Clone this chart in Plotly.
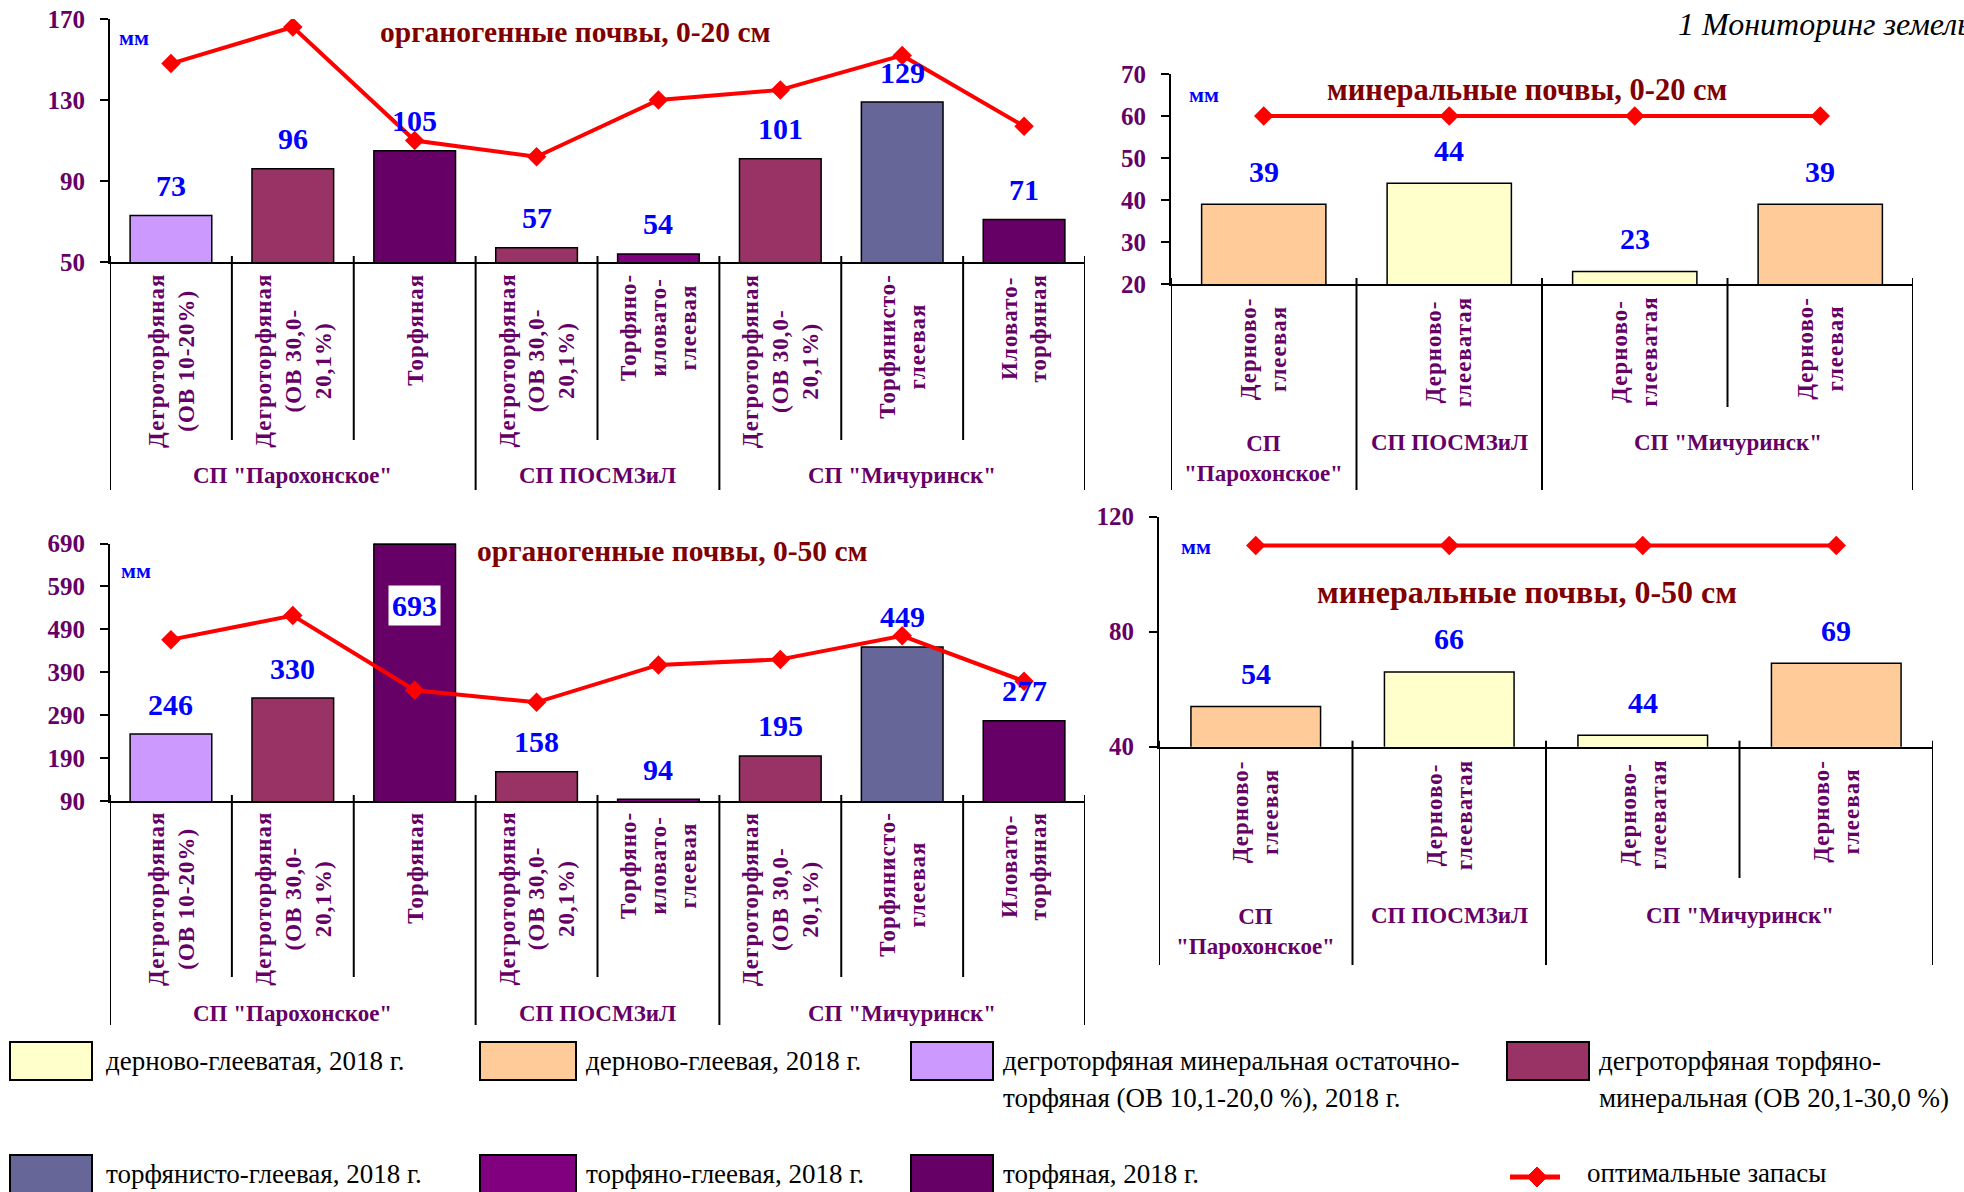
import plotly.graph_objects as go

W, H = 1964, 1192
SERIF = "Liberation Serif"

# ---------------- data ----------------
org_soils = ["Дегроторфяная<br>(ОВ 10-20%)",
             "Дегроторфяная<br>(ОВ 30,0-<br>20,1%)",
             "Торфяная",
             "Дегроторфяная<br>(ОВ 30,0-<br>20,1%)",
             "Торфяно-<br>иловато-<br>глеевая",
             "Дегроторфяная<br>(ОВ 30,0-<br>20,1%)",
             "Торфянисто-<br>глеевая",
             "Иловато-<br>торфяная"]
org_types = ["degro_min", "degro_torf", "torf", "degro_torf",
             "torf_gley", "degro_torf", "torfyan_gley", "torf"]
org_groups = ['СП "Парохонское"', "СП ПОСМЗиЛ", 'СП "Мичуринск"']
org_group_sizes = [3, 2, 3]
org_020_actual = [73, 96, 105, 57, 54, 101, 129, 71]
org_020_optimal = [148, 166, 110, 102, 130, 135, 152, 117]
org_050_actual = [246, 330, 693, 158, 94, 195, 449, 277]
org_050_optimal = [466, 522, 348, 320, 407, 420, 475, 369]

min_soils = ["Дерново-<br>глеевая", "Дерново-<br>глееватая",
             "Дерново-<br>глееватая", "Дерново-<br>глеевая"]
min_types = ["dern_gley", "dern_gleevat", "dern_gleevat", "dern_gley"]
min_groups = ['СП<br>"Парохонское"', "СП ПОСМЗиЛ", 'СП "Мичуринск"']
min_group_sizes = [1, 1, 2]
min_020_actual = [39, 44, 23, 39]
min_020_optimal = [60, 60, 60, 60]
min_050_actual = [54, 66, 44, 69]
min_050_optimal = [110, 110, 110, 110]

legend_keys = ["dern_gleevat", "dern_gley", "degro_min", "degro_torf",
               "torfyan_gley", "torf_gley", "torf"]
legend_labels = [["дерново-глееватая, 2018 г."],
                 ["дерново-глеевая, 2018 г."],
                 ["дегроторфяная минеральная остаточно-",
                  "торфяная (ОВ 10,1-20,0 %), 2018 г."],
                 ["дегроторфяная торфяно-",
                  "минеральная (ОВ 20,1-30,0 %)"],
                 ["торфянисто-глеевая, 2018 г."],
                 ["торфяно-глеевая, 2018 г."],
                 ["торфяная, 2018 г."]]
optimal_label = "оптимальные запасы"

soil_colors = {
    "dern_gleevat": "#FFFFCC",
    "dern_gley": "#FFCC99",
    "degro_min": "#CC99FF",
    "degro_torf": "#993366",
    "torfyan_gley": "#666699",
    "torf_gley": "#800080",
    "torf": "#660066",
}

AXIS_PURPLE = "#660066"
TITLE_RED = "#800000"
LABEL_BLUE = "#0000FF"
LINE_RED = "#FF0000"

# ---------------- panel layout (pixels) ----------------
panels = [
    dict(values=org_020_actual, optimal=org_020_optimal, labels=org_soils,
         types=org_types, groups=org_groups, sizes=org_group_sizes,
         x0=110, x1=1085, ytop=19, ybot=262, yrange=(50, 170), dtick=40,
         title="органогенные почвы, 0-20 см", title_xy=(575, 32), title_size=29.5,
         mm_xy=(134, 37), shift=30, inner_bottom=440, group_bottom=490,
         group_y=475, cat_top=272),
    dict(values=min_020_actual, optimal=min_020_optimal, labels=min_soils,
         types=min_types, groups=min_groups, sizes=min_group_sizes,
         x0=1171, x1=1913, ytop=74, ybot=284, yrange=(20, 70), dtick=10,
         title="минеральные почвы, 0-20 см", title_xy=(1527, 90), title_size=30.5,
         mm_xy=(1204, 95), shift=33, inner_bottom=407, group_bottom=490,
         group_y=443, cat_top=295),
    dict(values=org_050_actual, optimal=org_050_optimal, labels=org_soils,
         types=org_types, groups=org_groups, sizes=org_group_sizes,
         x0=110, x1=1085, ytop=543.5, ybot=801, yrange=(90, 690), dtick=100,
         title="органогенные почвы, 0-50 см", title_xy=(672, 551), title_size=29.5,
         mm_xy=(136, 570), shift=30, inner_bottom=977, group_bottom=1025,
         group_y=1013, cat_top=810),
    dict(values=min_050_actual, optimal=min_050_optimal, labels=min_soils,
         types=min_types, groups=min_groups, sizes=min_group_sizes,
         x0=1159, x1=1933, ytop=516.7, ybot=746.7, yrange=(40, 120), dtick=40,
         title="минеральные почвы, 0-50 см", title_xy=(1527, 592), title_size=32,
         mm_xy=(1196, 546), shift=33, inner_bottom=878, group_bottom=965,
         group_y=915, cat_top=758),
]


def px(x):
    return x / W


def py(y):
    return 1 - y / H


def spaced(text, sp=1):
    return "<br>".join(f'<span style="letter-spacing:{sp}px">{ln}</span>'
                       for ln in text.split("<br>"))


fig = go.Figure()
annotations = []
shapes = []
layout_axes = {}

for k, p in enumerate(panels, start=1):
    xa = "x" if k == 1 else f"x{k}"
    ya = "y" if k == 1 else f"y{k}"
    n = len(p["values"])
    idx = list(range(n))

    fig.add_trace(go.Bar(
        x=idx, y=p["values"], xaxis=xa, yaxis=ya, width=0.67,
        marker=dict(color=[soil_colors[t] for t in p["types"]],
                    line=dict(color="black", width=1.5)),
        showlegend=False, hoverinfo="skip"))
    fig.add_trace(go.Scatter(
        x=idx, y=p["optimal"], xaxis=xa, yaxis=ya, mode="lines+markers",
        line=dict(color=LINE_RED, width=4),
        marker=dict(symbol="diamond", size=15, color=LINE_RED),
        showlegend=False, hoverinfo="skip"))

    layout_axes["xaxis" if k == 1 else f"xaxis{k}"] = dict(
        domain=[px(p["x0"]), px(p["x1"])], range=[-0.5, n - 0.5],
        anchor=ya, showline=True, linecolor="black", linewidth=2,
        showticklabels=False, ticks="", showgrid=False, zeroline=False,
        automargin=False, fixedrange=True)
    layout_axes["yaxis" if k == 1 else f"yaxis{k}"] = dict(
        domain=[py(p["ybot"]), py(p["ytop"])], range=list(p["yrange"]),
        anchor=xa, tick0=p["yrange"][0], dtick=p["dtick"],
        ticks="outside", ticklen=8, tickwidth=2, tickcolor="black",
        showline=True, linecolor="black", linewidth=2, showgrid=False,
        zeroline=False, ticklabelstandoff=10, automargin=False, fixedrange=True,
        tickfont=dict(family=SERIF, size=25, color=AXIS_PURPLE, weight=700))

    # value labels above bars
    ymax = p["yrange"][1]
    for i, v in enumerate(p["values"]):
        if v > ymax:
            annotations.append(dict(
                xref=xa, yref=ya, x=i, y=ymax, yshift=-62, text=str(v),
                showarrow=False, bgcolor="white", borderpad=3,
                font=dict(family=SERIF, size=30, color=LABEL_BLUE, weight=700)))
            # top edge of the bar where it is cut by the axis range
            shapes.append(dict(
                type="line", xref=xa, yref=ya, x0=i - 0.335, x1=i + 0.335,
                y0=ymax, y1=ymax, line=dict(color="black", width=3)))
        else:
            annotations.append(dict(
                xref=xa, yref=ya, x=i, y=v, yshift=p["shift"], yanchor="middle",
                text=str(v), showarrow=False,
                font=dict(family=SERIF, size=30, color=LABEL_BLUE, weight=700)))

    # rotated soil names under the axis
    for i, lab in enumerate(p["labels"]):
        annotations.append(dict(
            xref=xa, yref="paper", x=i, y=py(p["cat_top"]), yanchor="top",
            xanchor="center", textangle=-90, align="center", text=spaced(lab),
            showarrow=False,
            font=dict(family=SERIF, size=23, color=AXIS_PURPLE, weight=700)))

    # category separators: inner ticks and group boundaries
    bounds = [-0.5]
    for s in p["sizes"]:
        bounds.append(bounds[-1] + s)
    axis_top = p["ybot"] - 6
    for b in range(n + 1):
        xb = b - 0.5
        is_group = xb in bounds
        shapes.append(dict(
            type="line", xref=xa, yref="paper", x0=xb, x1=xb,
            y0=py(axis_top),
            y1=py(p["group_bottom"] if is_group else p["inner_bottom"]),
            line=dict(color="black", width=2)))

    # farm (group) labels
    for g, name in enumerate(p["groups"]):
        center = (bounds[g] + bounds[g + 1]) / 2
        nlines = name.count("<br>") + 1
        yc = p["group_y"] + (nlines - 1) * 16
        annotations.append(dict(
            xref=xa, yref="paper", x=center, y=py(yc), yanchor="middle",
            text=name, showarrow=False, align="center",
            font=dict(family=SERIF, size=23, color=AXIS_PURPLE, weight=700)))

    # panel title and unit
    annotations.append(dict(
        xref="paper", yref="paper", x=px(p["title_xy"][0]), y=py(p["title_xy"][1]),
        text=p["title"], showarrow=False, xanchor="center", yanchor="middle",
        font=dict(family=SERIF, size=p["title_size"], color=TITLE_RED, weight=700)))
    annotations.append(dict(
        xref="paper", yref="paper", x=px(p["mm_xy"][0]), y=py(p["mm_xy"][1]),
        text="мм", showarrow=False, xanchor="center", yanchor="middle",
        font=dict(family=SERIF, size=22, color=LABEL_BLUE, weight=700)))

# page heading (runs off the right edge of the page)
annotations.append(dict(
    xref="paper", yref="paper", x=px(1676), y=py(24), xanchor="left",
    yanchor="middle", text="1 Мониторинг земель", showarrow=False,
    font=dict(family=SERIF, size=32, color="black", style="italic")))

# ---------------- legend ----------------
legend_boxes = [(10, 92, 1042), (480, 576, 1042), (911, 993, 1042), (1507, 1589, 1042),
                (10, 92, 1155), (480, 576, 1155), (911, 993, 1155)]
legend_text_x = [104, 584, 1001, 1597, 104, 584, 1001]
for key, lines, (bx0, bx1, by0), tx in zip(legend_keys, legend_labels,
                                           legend_boxes, legend_text_x):
    shapes.append(dict(type="rect", xref="paper", yref="paper",
                       x0=px(bx0), x1=px(bx1), y0=py(by0), y1=py(by0 + 38),
                       fillcolor=soil_colors[key],
                       line=dict(color="black", width=2)))
    for j, ln in enumerate(lines):
        annotations.append(dict(
            xref="paper", yref="paper", x=px(tx), y=py(by0 + 19 + j * 37),
            xanchor="left", yanchor="middle", text=ln, showarrow=False,
            font=dict(family=SERIF, size=27, color="black")))

# optimal stock legend entry: red line with a diamond
ly = 1177
shapes.append(dict(type="line", xref="paper", yref="paper",
                   x0=px(1510), x1=px(1560), y0=py(ly), y1=py(ly),
                   line=dict(color=LINE_RED, width=5)))
dcx = 1537
shapes.append(dict(type="path", xref="paper", yref="paper",
                   path=(f"M {px(dcx - 10)} {py(ly)} L {px(dcx)} {py(ly - 10)} "
                         f"L {px(dcx + 10)} {py(ly)} L {px(dcx)} {py(ly + 10)} Z"),
                   fillcolor=LINE_RED, line=dict(color=LINE_RED, width=1)))
annotations.append(dict(
    xref="paper", yref="paper", x=px(1585), y=py(1173), xanchor="left",
    yanchor="middle", text=optimal_label, showarrow=False,
    font=dict(family=SERIF, size=27, color="black")))

fig.update_layout(
    width=W, height=H, margin=dict(l=0, r=0, t=0, b=0, autoexpand=False),
    paper_bgcolor="white", plot_bgcolor="white",
    annotations=annotations, shapes=shapes, showlegend=False,
    **layout_axes)

fig.write_html("out.html")
